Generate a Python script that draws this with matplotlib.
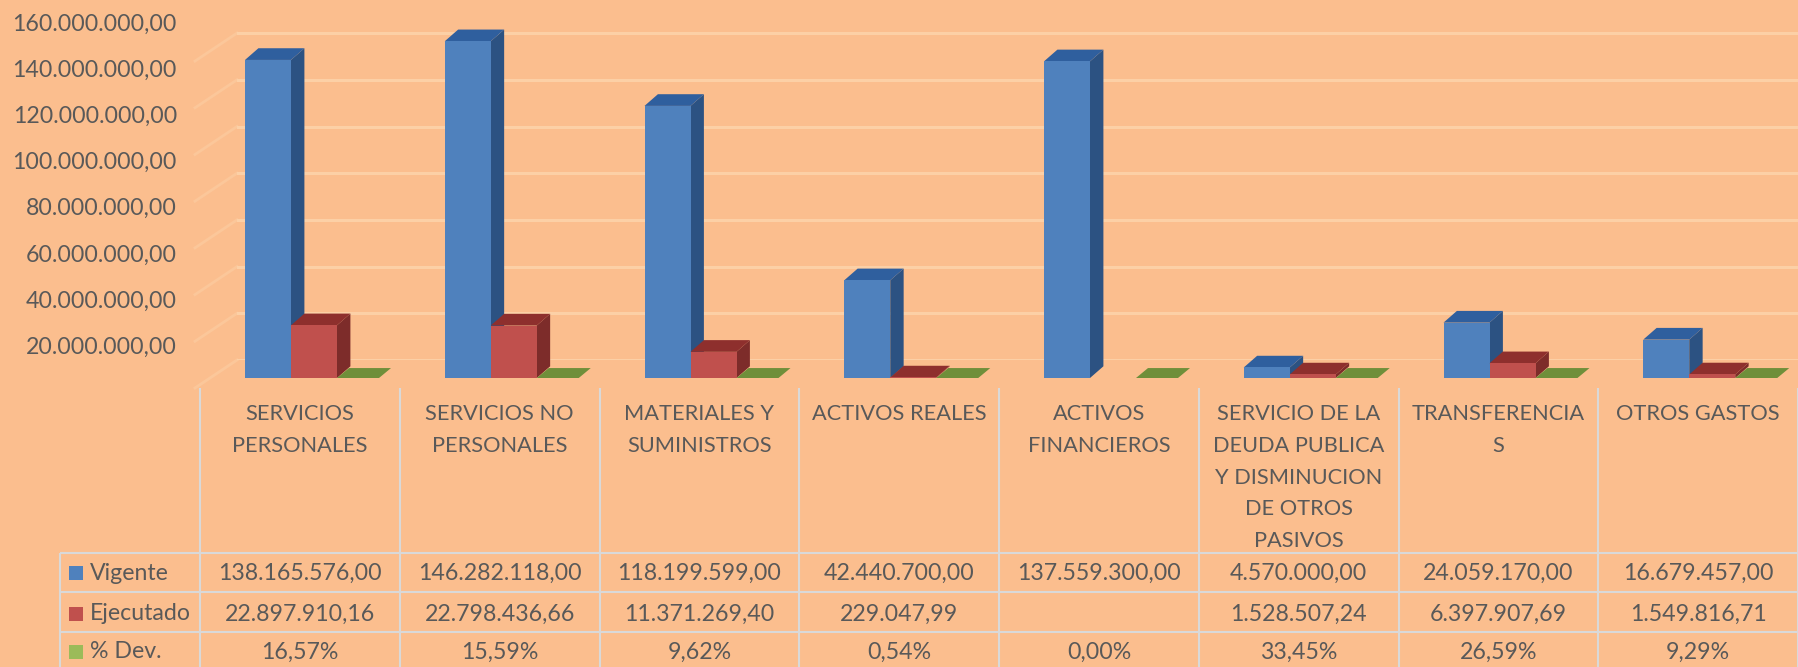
import numpy as np
import matplotlib
matplotlib.use("Agg")
import matplotlib.pyplot as plt
from matplotlib.patches import Rectangle

plt.rcParams['font.family'] = ['Lato', 'DejaVu Sans']

categories = ["SERVICIOS\nPERSONALES", "SERVICIOS NO\nPERSONALES", "MATERIALES Y\nSUMINISTROS",
              "ACTIVOS REALES", "ACTIVOS\nFINANCIEROS",
              "SERVICIO DE LA\nDEUDA PUBLICA\nY DISMINUCION\nDE OTROS\nPASIVOS",
              "TRANSFERENCIA\nS", "OTROS GASTOS"]
vigente = [138165576.00, 146282118.00, 118199599.00, 42440700.00, 137559300.00, 4570000.00, 24059170.00, 16679457.00]
ejecutado = [22897910.16, 22798436.66, 11371269.40, 229047.99, np.nan, 1528507.24, 6397907.69, 1549816.71]
dev = [0.1657, 0.1559, 0.0962, 0.0054, 0.0, 0.3345, 0.2659, 0.0929]
vigente_txt = ["138.165.576,00", "146.282.118,00", "118.199.599,00", "42.440.700,00", "137.559.300,00", "4.570.000,00", "24.059.170,00", "16.679.457,00"]
ejecutado_txt = ["22.897.910,16", "22.798.436,66", "11.371.269,40", "229.047,99", "", "1.528.507,24", "6.397.907,69", "1.549.816,71"]
dev_txt = ["16,57%", "15,59%", "9,62%", "0,54%", "0,00%", "33,45%", "26,59%", "9,29%"]
yticks = [20000000, 40000000, 60000000, 80000000, 100000000, 120000000, 140000000, 160000000]
ytick_txt = ["20.000.000,00", "40.000.000,00", "60.000.000,00", "80.000.000,00", "100.000.000,00", "120.000.000,00", "140.000.000,00", "160.000.000,00"]
series_names = ["Vigente", "Ejecutado", "% Dev."]

W, H = 1798, 667
BG = "#FBBE8E"
TXT = "#595959"
LINE = "#D9D9D9"
GRID = "#FCD0A6"
FS = 16.7
FS_HEAD = 15.7

fig = plt.figure(figsize=(W / 100, H / 100), dpi=100, facecolor=BG)


def px_axes(x0, y0, x1, y1):
    # y0 is the top edge in picture pixels
    a = fig.add_axes([x0 / W, 1 - y1 / H, (x1 - x0) / W, (y1 - y0) / H])
    a.patch.set_alpha(0)
    for s in a.spines.values():
        s.set_visible(False)
    return a


# back wall, slightly different scale than the front of the bars
wall_px = 46.7 / 20000000
wall = px_axes(237, 0, W, 360)
wall.set_xticks([])
wall.set_yticks([0] + yticks)
wall.set_xlim(0, 1)
wall.set_ylim(0, 360 / wall_px)
wall.tick_params(length=0, labelleft=False)
wall.grid(axis='y', color=GRID, lw=2.2)
wall.set_axisbelow(True)
# left wall strokes running down from each gridline
for v in [0] + yticks[:-1]:
    wall.plot([-42 / (W - 237), 0], [v - 28 / wall_px, v], color=GRID, lw=2, alpha=0.5, clip_on=False)

# bars
col_w = (W - 200) / 8
px_per_val = 2.302 / 1000000
ax = px_axes(200, 0, W, 388)
ax.set_xticks([])
ax.set_yticks([])
ax.set_xlim(0, 8)
ax.set_ylim(-10 / px_per_val, 378 / px_per_val)
ax.patch.set_visible(False)

bar_w = 46 / col_w
start = 45 / col_w
dx = 13.4 / col_w
dy = 11.7 / px_per_val
colors = [("#4F81BD", "#2F5F9E", "#2C5282"), ("#C0504D", "#8E2F2D", "#7D2C2A"), ("#9BBB59", "#6F8F3A", "#5F7A30")]

for i in range(len(categories)):
    for k, vals in enumerate([vigente, ejecutado, dev]):
        v = vals[i]
        if np.isnan(v):
            continue
        x = i + start + k * bar_w
        front, top, side = colors[k]
        if k == 2:
            # percentages are next to nothing on this scale, only the lid shows
            w = 42 / col_w
            d = 12 / col_w
            ax.fill([x, x + w, x + w + d, x + d], [0, 0, dy * 0.85, dy * 0.85], color=top, lw=0, zorder=5)
            continue
        ax.fill([x + bar_w, x + bar_w + dx, x + bar_w + dx, x + bar_w], [0, dy, v + dy, v], color=side, lw=0, zorder=3 + k)
        ax.fill([x, x + bar_w, x + bar_w + dx, x + dx], [v, v, v + dy, v + dy], color=top, lw=0, zorder=3 + k)
        ax.bar(x, v, bar_w, align='edge', color=front, lw=0, zorder=3 + k)

# value labels
for v, t in zip(yticks, ytick_txt):
    ax.annotate(t, xy=(0, v), xycoords=ax.get_yaxis_transform(), xytext=(-23, -15), textcoords='offset pixels',
                ha='right', va='center', color=TXT, fontsize=FS, annotation_clip=False)

# data table
tb = px_axes(0, 0, W, H)
tb.set_xticks([])
tb.set_yticks([])

rows_y = [553, 592, 632]
centers_y = [573, 614, 652]
for j in range(9):
    tb.plot([200 + j * col_w] * 2, [388, H], color=LINE, lw=1.5, solid_capstyle='butt')
tb.plot([60, 60], [553, H], color=LINE, lw=1.5, solid_capstyle='butt')
for y in rows_y:
    tb.plot([60, W], [y, y], color=LINE, lw=1.5, solid_capstyle='butt')

for i, c in enumerate(categories):
    cx = 200 + (i + 0.5) * col_w
    for n, line in enumerate(c.split("\n")):
        tb.text(cx, 414 + n * 31.8, line, ha='center', va='center', color=TXT, fontsize=FS_HEAD)
    for y, row in zip(centers_y, [vigente_txt, ejecutado_txt, dev_txt]):
        tb.text(cx, y, row[i], ha='center', va='center', color=TXT, fontsize=FS)

for y, name, col in zip(centers_y, series_names, colors):
    tb.add_patch(Rectangle((69, y - 7), 14, 14, color=col[0], lw=0))
    tb.text(90, y, name, ha='left', va='center', color=TXT, fontsize=FS)

tb.set_xlim(0, W)
tb.set_ylim(H, 0)

fig.savefig("out.png", dpi=100, facecolor=BG)
